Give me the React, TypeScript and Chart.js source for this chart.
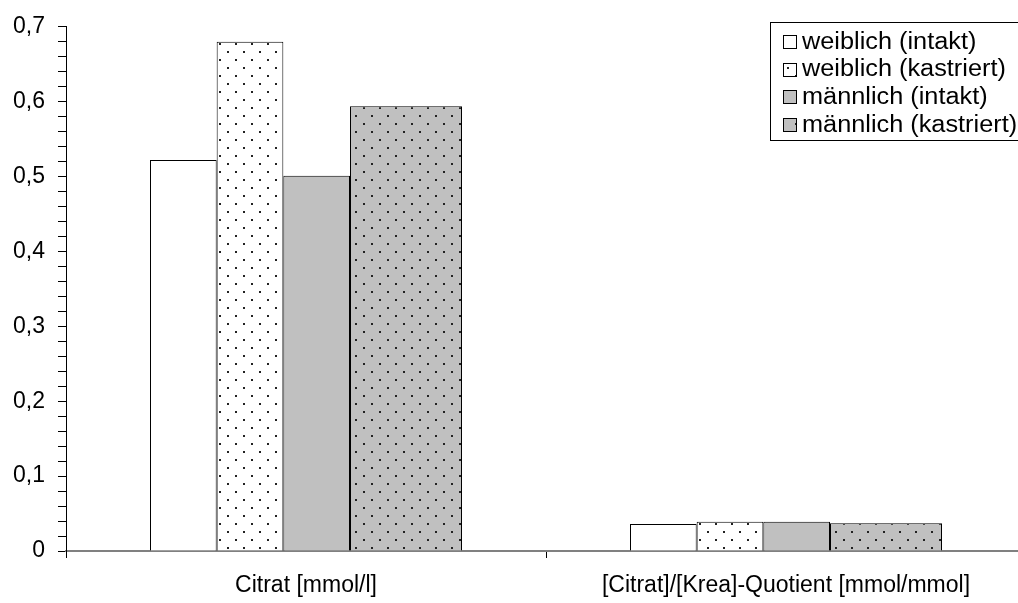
import React, { useEffect, useRef } from 'react';
import { Chart, registerables } from 'chart.js';

Chart.register(...registerables);

// ---------- data ----------
const categories = ['Citrat [mmol/l]', '[Citrat]/[Krea]-Quotient [mmol/mmol]'];
const seriesLabels = ['weiblich (intakt)', 'weiblich (kastriert)', 'männlich (intakt)', 'männlich (kastriert)'];
const weiblichIntakt = [0.522, 0.036];
const weiblichKastriert = [0.68, 0.039];
const maennlichIntakt = [0.501, 0.039];
const maennlichKastriert = [0.594, 0.037];
const yMin = 0;
const yMax = 0.7;
const yMajorStep = 0.1;
const yMinorStep = 0.02;

// ---------- layout / style ----------
const FONT = "'Liberation Sans', Arial, Helvetica, sans-serif";
const FONT_SIZE = 23;
const CANVAS_W = 1030;
const CANVAS_H = 603;
// relative widths of the four bars inside a group, and the share of the category the group takes
const SLOT_WIDTHS = [1, 1, 1, 1.68];
const GROUP_FRACTION = 0.65;

function slotOptions() {
  const n = SLOT_WIDTHS.length;
  const total = SLOT_WIDTHS.reduce((a, b) => a + b, 0);
  const unit = GROUP_FRACTION / total;
  let cum = -GROUP_FRACTION / 2;
  return SLOT_WIDTHS.map((w, k) => {
    const center = cum + (w * unit) / 2;
    cum += w * unit;
    const rel = (k + 0.5) / n - 0.5;
    const c = center / rel;
    const b = (n * w * unit) / c;
    return { categoryPercentage: c, barPercentage: b };
  });
}

function makePattern(bg: string, dots: boolean): CanvasPattern | string {
  if (!dots) return bg;
  const t = document.createElement('canvas');
  t.width = 16;
  t.height = 16;
  const c = t.getContext('2d')!;
  c.fillStyle = bg;
  c.fillRect(0, 0, 16, 16);
  c.fillStyle = '#222222';
  c.fillRect(3, 3, 2, 2);
  c.fillRect(11, 11, 2, 2);
  const p = c.createPattern(t, 'repeat');
  return p || bg;
}

const legendPlugin = {
  id: 'boxLegend',
  afterDraw(chart: any) {
    const ctx = chart.ctx as CanvasRenderingContext2D;
    const boxLeft = 770.5;
    const boxTop = 22.5;
    const boxBottom = 140.5;
    ctx.save();
    ctx.fillStyle = '#ffffff';
    ctx.fillRect(boxLeft, boxTop, 400, boxBottom - boxTop);
    ctx.strokeStyle = '#000000';
    ctx.lineWidth = 1;
    ctx.strokeRect(boxLeft, boxTop, 400, boxBottom - boxTop);
    ctx.font = `${FONT_SIZE}px ${FONT}`;
    ctx.textBaseline = 'middle';
    ctx.textAlign = 'left';
    chart.data.datasets.forEach((ds: any, i: number) => {
      const cy = 41.5 + i * 27.6;
      const sx = 783.5;
      const sy = Math.round(cy - 6.5) + 0.5;
      ctx.fillStyle = ds.backgroundColor;
      ctx.fillRect(sx, sy, 13, 13);
      ctx.strokeStyle = '#000000';
      ctx.strokeRect(sx, sy, 13, 13);
      ctx.fillStyle = '#000000';
      ctx.save();
      ctx.translate(802, cy + 1);
      ctx.scale(1.1, 1);
      ctx.fillText(ds.label, 0, 0);
      ctx.restore();
    });
    ctx.restore();
  },
};

export default function App() {
  const ref = useRef<HTMLCanvasElement | null>(null);

  useEffect(() => {
    if (!ref.current) return;
    const fills = [
      makePattern('#ffffff', false),
      makePattern('#ffffff', true),
      makePattern('#c0c0c0', false),
      makePattern('#c0c0c0', true),
    ];
    const values = [weiblichIntakt, weiblichKastriert, maennlichIntakt, maennlichKastriert];
    const slots = slotOptions();

    const chart = new Chart(ref.current, {
      type: 'bar',
      data: {
        labels: categories,
        datasets: values.map((v, i) => ({
          label: seriesLabels[i],
          data: v,
          backgroundColor: fills[i] as any,
          borderColor: '#000000',
          borderWidth: 1,
          borderSkipped: 'start',
          categoryPercentage: slots[i].categoryPercentage,
          barPercentage: slots[i].barPercentage,
        })),
      },
      options: {
        animation: false,
        responsive: false,
        devicePixelRatio: 1,
        layout: { padding: { top: 20, right: 4, left: 0, bottom: 0 } },
        plugins: {
          legend: { display: false },
          tooltip: { enabled: false },
        },
        scales: {
          x: {
            type: 'category',
            offset: true,
            grid: {
              offset: true,
              drawOnChartArea: false,
              drawTicks: true,
              tickLength: 7,
              tickColor: '#000000',
              tickWidth: 1,
            },
            border: { display: true, color: '#808080', width: 2 },
            ticks: {
              color: '#000000',
              padding: 14,
              maxRotation: 0,
              autoSkip: false,
              font: { family: FONT, size: FONT_SIZE },
            },
            afterFit(scale: any) {
              scale.height = 52;
            },
          },
          y: {
            min: yMin,
            max: yMax,
            grid: {
              drawOnChartArea: false,
              drawTicks: true,
              tickLength: 8,
              tickColor: '#000000',
              tickWidth: 1,
            },
            border: { display: true, color: '#000000', width: 1 },
            ticks: {
              stepSize: yMinorStep,
              autoSkip: false,
              color: '#000000',
              padding: 13,
              font: { family: FONT, size: FONT_SIZE },
              callback(value: any) {
                const steps = Math.round(Number(value) / yMinorStep);
                const perMajor = Math.round(yMajorStep / yMinorStep);
                if (steps % perMajor !== 0) return '';
                const v = steps * yMinorStep;
                return v === 0 ? '0' : v.toFixed(1).replace('.', ',');
              },
            },
            afterFit(scale: any) {
              scale.width = 66;
            },
          },
        },
      },
      plugins: [legendPlugin],
    });
    return () => chart.destroy();
  }, []);

  return (
    <div style={{ position: 'absolute', left: 0, top: 0, width: 1018, height: 603, overflow: 'hidden', background: '#fff' }}>
      <canvas ref={ref} width={CANVAS_W} height={CANVAS_H} style={{ width: CANVAS_W, height: CANVAS_H, display: 'block' }} />
    </div>
  );
}
